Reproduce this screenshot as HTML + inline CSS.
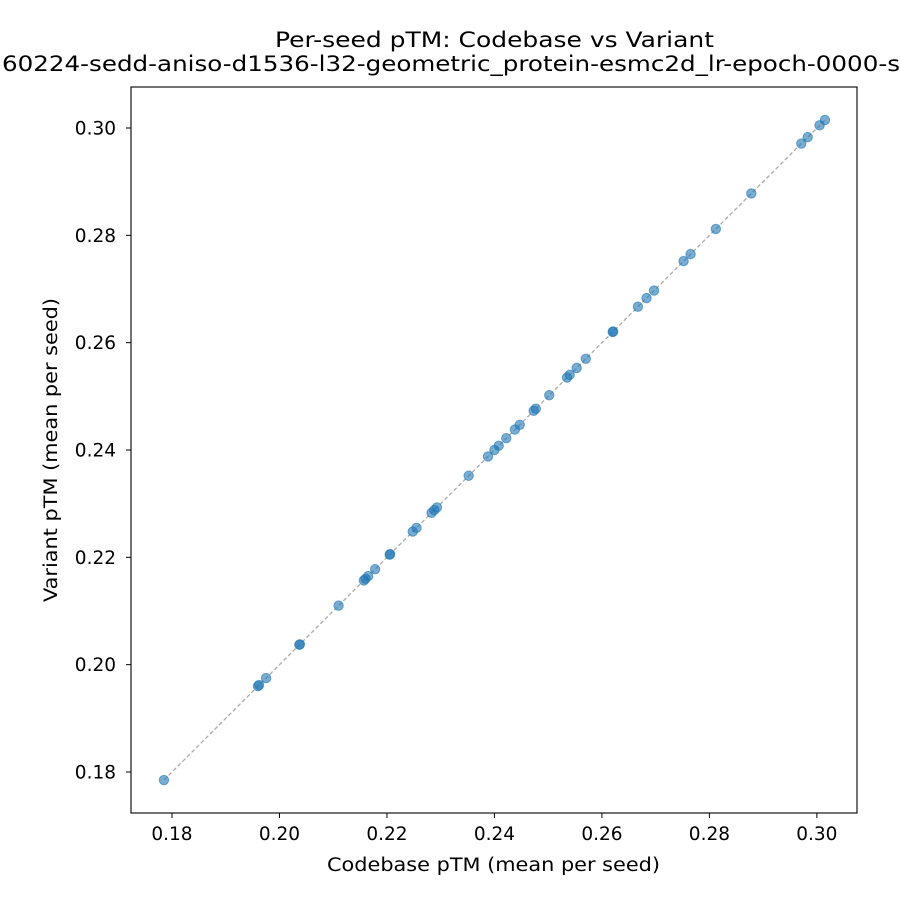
<!DOCTYPE html>
<html><head><meta charset="utf-8"><style>
html,body{margin:0;padding:0;background:#fff;}
svg{display:block;font-family:"DejaVu Sans","Liberation Sans",sans-serif;}
</style></head><body>
<svg id="s" width="900" height="900" viewBox="0 0 900 900">
<rect width="900" height="900" fill="#fff"/>
<text x="275" y="47" style="font-size:21px" fill="#000" textLength="439" lengthAdjust="spacingAndGlyphs">Per-seed pTM: Codebase vs Variant</text>
<text x="2" y="71" style="font-size:21px" fill="#000" textLength="898" lengthAdjust="spacingAndGlyphs">60224-sedd-aniso-d1536-l32-geometric_protein-esmc2d_lr-epoch-0000-s</text>
<line x1="164" y1="780" x2="825" y2="120" stroke="#aaa" stroke-width="1.3" stroke-dasharray="4,2.5"/>
<g id="pts"></g>
<rect x="131" y="87" width="726" height="726" fill="none" stroke="#000" stroke-width="1.1"/>
<g id="ticks" style="font-size:18.5px" fill="#000"></g>
<text x="327" y="871" style="font-size:18.5px" textLength="333" lengthAdjust="spacingAndGlyphs">Codebase pTM (mean per seed)</text>
<text transform="translate(57,602) rotate(-90)" style="font-size:18.5px" textLength="304" lengthAdjust="spacingAndGlyphs">Variant pTM (mean per seed)</text>
</svg>
<script>
var ns="http://www.w3.org/2000/svg";
function X(v){return 172+(v-0.18)*5374;}
function Y(v){return 772-(v-0.18)*5366.7;}
var vals=[0.1785,0.196,0.1962,0.1975,0.2037,0.2038,0.211,0.2157,0.216,0.2165,0.2178,0.2205,0.2206,0.2248,0.2255,0.2283,0.2288,0.2293,0.2352,0.2388,0.2400,0.2408,0.2422,0.2438,0.2447,0.2473,0.2477,0.2502,0.2535,0.2540,0.2553,0.2570,0.2620,0.2621,0.2667,0.2683,0.2697,0.2752,0.2765,0.2812,0.2878,0.2971,0.2983,0.3005,0.3015];
var g=document.getElementById("pts");
vals.forEach(function(v){var c=document.createElementNS(ns,"circle");c.setAttribute("cx",X(v));c.setAttribute("cy",Y(v));c.setAttribute("r",4.7);c.setAttribute("fill","#1f77b4");c.setAttribute("fill-opacity","0.6");c.setAttribute("stroke","#1f77b4");c.setAttribute("stroke-opacity","0.6");c.setAttribute("stroke-width","1");g.appendChild(c);});
var t=document.getElementById("ticks");
[0.18,0.20,0.22,0.24,0.26,0.28,0.30].forEach(function(v){
 var x=X(v),y=Y(v);
 var l=document.createElementNS(ns,"line");l.setAttribute("x1",x);l.setAttribute("x2",x);l.setAttribute("y1",813);l.setAttribute("y2",818);l.setAttribute("stroke","#000");t.appendChild(l);
 var a=document.createElementNS(ns,"text");a.setAttribute("x",x);a.setAttribute("y",840);a.setAttribute("text-anchor","middle");a.textContent=v.toFixed(2);t.appendChild(a);
 var m=document.createElementNS(ns,"line");m.setAttribute("x1",126);m.setAttribute("x2",131);m.setAttribute("y1",y);m.setAttribute("y2",y);m.setAttribute("stroke","#000");t.appendChild(m);
 var b=document.createElementNS(ns,"text");b.setAttribute("x",116);b.setAttribute("y",y+6.5);b.setAttribute("text-anchor","end");b.textContent=v.toFixed(2);t.appendChild(b);
});
</script>
</body></html>
